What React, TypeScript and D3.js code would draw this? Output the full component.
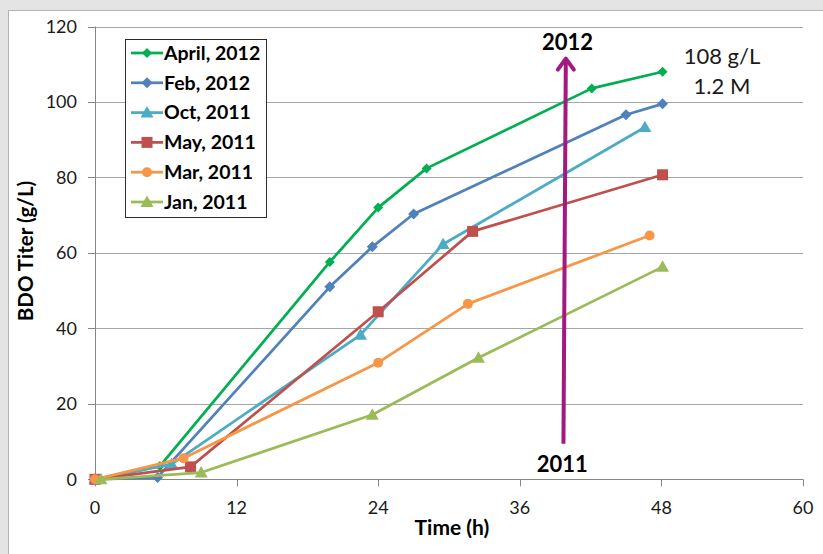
import React from "react";
import * as d3 from "d3";

const seriesNames = ["April, 2012", "Feb, 2012", "Oct, 2011", "May, 2011", "Mar, 2011", "Jan, 2011"];
const seriesColors = ["#00b050", "#4f81bd", "#4bacc6", "#c0504d", "#f79646", "#9bbb59"];
const seriesMarkers = ["diamondSmall", "diamond", "triangle", "square", "circle", "triangle"];

const april2012: [number, number][] = [[0, 0], [5.5, 3.5], [19.9, 57.6], [24, 72], [28.1, 82.4], [42.1, 103.6], [48.1, 108]];
const feb2012: [number, number][] = [[0, 0], [5.3, 0.5], [19.9, 51], [23.5, 61.6], [27, 70.3], [45, 96.6], [48.1, 99.5]];
const oct2011: [number, number][] = [[0, 0], [6.5, 4], [22.5, 38.3], [29.5, 62.3], [46.6, 93.3]];
const may2011: [number, number][] = [[0, 0], [8.1, 3.3], [24, 44.4], [32, 65.7], [48.1, 80.7]];
const mar2011: [number, number][] = [[0, 0], [7.5, 5.6], [24, 30.9], [31.6, 46.5], [47, 64.6]];
const jan2011: [number, number][] = [[0.5, 0], [9, 1.8], [23.5, 17.1], [32.5, 32.2], [48.1, 56.3]];

const seriesData = [april2012, feb2012, oct2011, may2011, mar2011, jan2011];

const xTicks = [0, 12, 24, 36, 48, 60];
const yTicks = [0, 20, 40, 60, 80, 100, 120];

const xTitle = "Time (h)";
const yTitle = "BDO Titer (g/L)";
const arrowFrom: [number, number] = [39.7, 9.4];
const arrowTo: [number, number] = [39.9, 112];

const FONT = "Lato, 'Open Sans', sans-serif";

function Marker({ type, x, y, color }: { type: string; x: number; y: number; color: string }) {
  if (type === "circle") return <circle cx={x} cy={y} r={5} fill={color} />;
  if (type === "square") return <rect x={x - 5.5} y={y - 5.5} width={11} height={11} fill={color} />;
  if (type === "triangle") {
    const s = 6.5;
    return <path d={`M${x},${y - s}L${x + s},${y + s * 0.75}L${x - s},${y + s * 0.75}Z`} fill={color} />;
  }
  const s = type === "diamondSmall" ? 5 : 5.5;
  return <path d={`M${x},${y - s}L${x + s},${y}L${x},${y + s}L${x - s},${y}Z`} fill={color} />;
}

export default function App() {
  const W = 823, H = 554;
  const x = d3.scaleLinear().domain([0, 60]).range([95, 803]);
  const y = d3.scaleLinear().domain([0, 120]).range([479.3, 26.5]);
  const line = d3.line<[number, number]>().x(d => x(d[0])).y(d => y(d[1]));

  const ax1 = x(arrowFrom[0]), ay1 = y(arrowFrom[1]);
  const ax2 = x(arrowTo[0]), ay2 = y(arrowTo[1]);

  return (
    <svg width={W} height={H} style={{ position: "absolute", left: 0, top: 0 }} fontFamily={FONT}>
      <rect x={0} y={0} width={W} height={H} fill="#e4e4e4" />
      <rect x={8.5} y={10.5} width={W} height={H} fill="#ffffff" stroke="#b4b4b4" strokeWidth={1} />

      {yTicks.map(t => (
        <g key={"y" + t}>
          {t > 0 && <line x1={95} x2={803} y1={Math.round(y(t)) + 0.5} y2={Math.round(y(t)) + 0.5} stroke="#a6a6a6" strokeWidth={1} />}
          <line x1={88} x2={95} y1={Math.round(y(t)) + 0.5} y2={Math.round(y(t)) + 0.5} stroke="#868686" />
          <text x={77} y={y(t)} dy="0.35em" textAnchor="end" fontSize={18} fill="#1a1a1a">{t}</text>
        </g>
      ))}
      <line x1={95.5} x2={95.5} y1={y(120)} y2={y(0)} stroke="#868686" />
      <line x1={95} x2={803} y1={Math.round(y(0)) + 0.5} y2={Math.round(y(0)) + 0.5} stroke="#868686" />
      {xTicks.map(t => (
        <g key={"x" + t}>
          <line x1={Math.round(x(t)) + 0.5} x2={Math.round(x(t)) + 0.5} y1={y(0)} y2={y(0) + 7} stroke="#868686" />
          <text x={x(t)} y={514} textAnchor="middle" fontSize={18} fill="#1a1a1a">{t}</text>
        </g>
      ))}

      <text x={452} y={535} textAnchor="middle" fontSize={21} fontWeight="bold" fill="#000">{xTitle}</text>
      <text transform={`translate(33,${251}) rotate(-90)`} textAnchor="middle" fontSize={20.5} fontWeight="bold" fill="#000">{yTitle}</text>

      {seriesData.map((data, i) => (
        <g key={"s" + i}>
          <path d={line(data) || ""} fill="none" stroke={seriesColors[i]} strokeWidth={2.75} strokeLinejoin="round" />
          {data.map((d, j) => (
            <Marker key={j} type={seriesMarkers[i]} x={x(d[0])} y={y(d[1])} color={seriesColors[i]} />
          ))}
        </g>
      ))}

      {/* arrow */}
      <line x1={ax1} y1={ay1} x2={ax2} y2={ay2 + 2} stroke="#a2197f" strokeWidth={4} />
      <path d={`M${ax2 - 8},${ay2 + 13}L${ax2},${ay2 + 2}L${ax2 + 8},${ay2 + 13}`} fill="none" stroke="#a2197f" strokeWidth={4} strokeLinecap="round" strokeLinejoin="round" />

      <text x={x(40.05)} y={50} textAnchor="middle" fontSize={22} fontWeight="bold" fill="#000">2012</text>
      <text x={x(39.6)} y={472} textAnchor="middle" fontSize={22} fontWeight="bold" fill="#000">2011</text>
      <text x={722} y={64} textAnchor="middle" fontSize={22} fill="#1a1a1a">108 g/L</text>
      <text x={722} y={94} textAnchor="middle" fontSize={22} fill="#1a1a1a">1.2 M</text>

      {/* legend */}
      <rect x={125.5} y={39.5} width={141} height={178} fill="#fff" stroke="#2b2b2b" strokeWidth={1} />
      {seriesNames.map((name, i) => {
        const ly = 53 + i * 29.8;
        return (
          <g key={"l" + i}>
            <line x1={131} x2={163} y1={ly} y2={ly} stroke={seriesColors[i]} strokeWidth={2.75} />
            <Marker type={seriesMarkers[i]} x={147} y={ly} color={seriesColors[i]} />
            <text x={164} y={ly} dy="0.35em" fontSize={19.5} fontWeight="bold" fill="#000">{name}</text>
          </g>
        );
      })}
    </svg>
  );
}
